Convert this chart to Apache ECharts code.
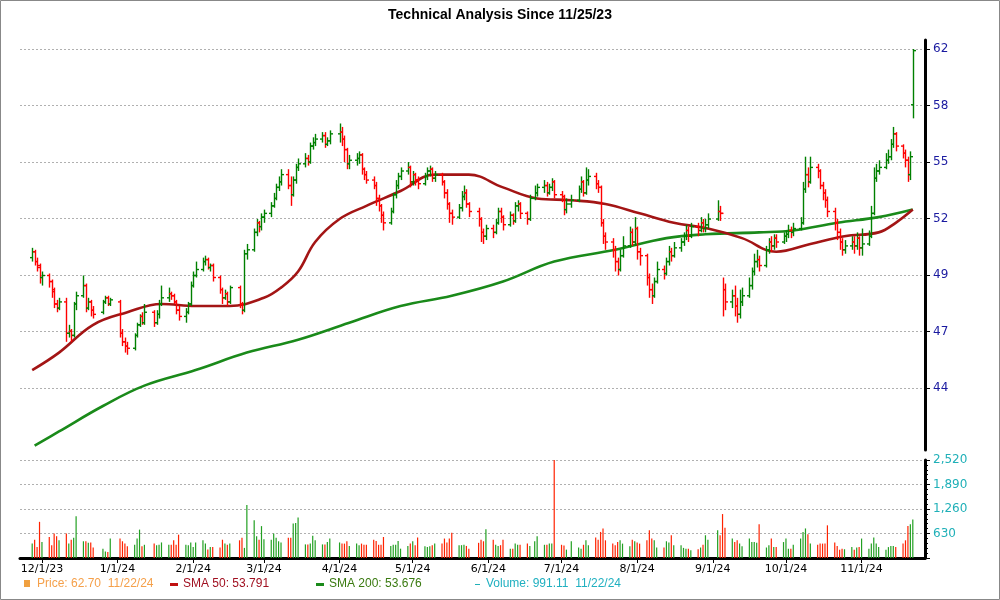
<!DOCTYPE html>
<html><head><meta charset="utf-8">
<script src="https://cdn.jsdelivr.net/npm/echarts@6/dist/echarts.min.js"></script>
<style>html,body{margin:0;padding:0;background:#fff}#c{width:1000px;height:600px}</style>
</head><body><div id="c"></div>
<script>
// ---- data ----
const firstDay = '2023-11-27', lastDay = '2024-11-22';
const holidays = ['2023-12-25','2024-01-01','2024-01-15','2024-02-19','2024-03-29','2024-05-27','2024-06-19','2024-07-04','2024-09-02'];
// daily bars: [open, close, low, high]
const ohlc = [
[50.2,50.5,50.0,50.7],[50.5,50.0,49.8,50.6],[50.0,49.8,49.5,50.2],[49.7,49.2,48.9,49.9],[49.2,49.3,48.8,49.5],
[49.3,49.0,48.7,49.4],[49.0,48.5,48.2,49.1],[48.6,47.9,47.7,48.7],[47.9,47.7,47.5,48.1],[47.7,48.0,47.6,48.2],
[48.0,46.5,46.1,48.2],[46.5,46.6,46.3,46.9],[46.6,46.4,46.1,46.7],[46.4,47.9,46.3,48.0],[47.9,48.3,47.6,48.5],
[48.3,48.8,48.2,49.3],[48.8,47.7,47.5,48.9],[47.7,48.0,47.6,48.2],[48.0,47.6,47.3,48.1],[47.6,47.4,47.2,47.8],
[47.5,48.0,47.4,48.1],[48.0,48.2,47.9,48.3],[48.2,47.9,47.8,48.3],[47.9,48.1,47.8,48.2],
[48.0,46.5,46.3,48.1],[46.5,46.1,45.9,46.7],[46.1,45.9,45.6,46.3],[45.9,45.8,45.5,46.1],
[45.8,46.4,45.7,46.5],[46.4,46.9,46.3,47.0],[46.9,47.3,46.8,47.4],[47.3,47.0,46.9,47.5],[47.0,47.5,46.9,47.9],
[47.5,47.0,46.8,47.6],[47.0,47.4,46.9,47.6],[47.4,47.9,47.2,48.1],[47.9,48.2,47.8,48.8],
[48.2,48.4,48.0,48.7],[48.4,48.3,48.1,48.5],[48.3,48.0,47.9,48.4],[48.0,47.6,47.4,48.1],[47.6,47.3,47.1,47.8],
[47.3,47.5,47.0,47.7],[47.5,47.9,47.4,48.0],[47.9,48.8,47.8,49.0],[48.8,49.3,48.7,49.5],[49.3,49.6,49.2,50.0],
[49.6,50.0,49.5,50.2],[50.0,50.1,49.8,50.3],[50.1,49.7,49.6,50.2],[49.7,49.8,49.5,49.9],[49.8,49.2,49.0,49.9],
[49.2,48.6,48.4,49.3],[48.6,48.2,47.9,48.7],[48.2,48.4,48.1,48.6],[48.4,48.0,47.8,48.5],[48.0,48.7,47.9,48.8],
[48.7,47.9,47.7,48.8],[47.9,47.6,47.4,48.0],[47.6,50.4,47.5,50.6],[50.4,50.6,50.1,50.9],
[50.6,51.5,50.5,51.7],[51.5,52.0,51.3,52.2],[52.0,51.8,51.5,52.1],[51.8,52.3,51.6,52.5],[52.3,52.5,52.0,52.7],
[52.5,52.9,52.3,53.1],[52.9,53.3,52.8,53.6],[53.3,53.9,53.2,54.1],[53.9,54.2,53.7,54.5],[54.2,54.6,54.0,54.9],
[54.6,54.0,53.8,54.9],[54.0,53.5,52.9,54.5],[53.5,54.3,53.4,54.5],[54.3,55.0,54.1,55.2],[55.0,55.2,54.8,55.5],
[55.2,55.5,55.0,55.8],[55.5,55.3,55.1,55.7],[55.3,56.2,55.2,56.4],[56.2,56.4,56.0,56.7],[56.4,56.6,56.2,56.9],
[56.6,56.8,56.4,57.0],[56.8,56.3,56.1,57.0],[56.3,56.5,56.2,56.7],[56.5,56.9,56.3,57.1],
[56.9,57.0,56.4,57.5],[57.0,56.6,56.2,57.3],[56.6,56.0,55.3,56.8],[56.0,55.2,54.9,56.1],[55.2,55.4,54.9,55.7],
[55.4,55.5,55.1,55.8],[55.5,55.7,55.2,55.9],[55.7,54.9,54.6,55.8],[54.9,54.6,54.3,55.0],[54.6,54.3,54.1,54.8],
[54.3,54.0,53.8,54.5],[54.0,53.3,52.9,54.2],[53.3,52.9,52.6,53.5],[52.9,52.4,52.0,53.0],[52.4,52.0,51.6,52.6],
[52.0,52.6,51.9,52.8],[52.6,53.5,52.5,53.6],[53.5,54.0,53.3,54.3],[54.0,54.5,53.8,54.7],[54.5,54.8,54.3,55.0],
[54.8,55.0,54.6,55.3],[55.0,54.2,53.9,55.1],[54.2,54.6,54.0,54.8],[54.6,54.3,54.0,54.7],[54.3,54.1,53.8,54.5],
[54.1,54.5,54.0,54.7],[54.5,54.8,54.3,55.0],[54.8,54.9,54.5,55.1],[54.9,54.4,54.2,55.0],[54.4,54.6,54.2,54.8],
[54.6,54.2,54.0,54.7],[54.2,53.6,53.3,54.3],[53.6,53.0,52.7,53.8],[53.0,52.5,52.0,53.1],[52.5,52.3,51.9,52.7],
[52.3,52.8,52.2,53.0],[52.8,53.4,52.6,53.7],[53.4,53.6,53.2,54.0],[53.6,53.0,52.8,53.8],[53.0,52.6,52.3,53.1],
[52.6,52.2,51.8,52.8],[52.2,51.5,51.0,52.3],[51.5,51.3,50.9,51.7],[51.3,51.7,51.1,51.9],
[51.7,51.5,51.2,51.9],[51.5,52.0,51.4,52.2],[52.0,52.6,51.9,52.8],[52.6,52.3,52.0,52.8],[52.3,51.9,51.6,52.4],
[51.9,52.4,51.8,52.6],[52.4,52.1,51.9,52.5],[52.1,52.9,52.0,53.1],[52.9,53.0,52.6,53.2],[53.0,52.5,52.2,53.1],
[52.5,52.2,51.9,52.6],[52.2,53.3,52.1,53.5],[53.3,53.6,53.2,54.0],[53.6,53.9,53.4,54.1],
[53.9,54.0,53.6,54.3],[54.0,53.6,53.4,54.2],[53.6,53.9,53.5,54.1],[53.9,54.2,53.7,54.4],[54.2,53.5,53.3,54.3],
[53.5,53.4,53.1,53.7],[53.4,52.7,52.4,53.5],[52.7,53.0,52.5,53.3],[53.0,53.2,52.8,53.5],
[53.2,53.8,53.1,54.0],[53.8,54.2,53.6,54.5],[54.2,53.6,53.4,54.3],[53.6,54.3,53.5,55.0],[54.3,54.5,54.0,54.9],
[54.5,54.1,53.8,54.7],[54.1,53.9,53.6,54.3],[53.9,52.0,51.8,54.0],[52.0,51.3,50.9,52.2],[51.3,51.0,50.6,51.5],
[51.0,50.6,50.2,51.2],[50.6,50.0,49.5,50.8],[50.0,49.6,49.3,50.2],[49.6,50.3,49.5,50.6],[50.3,50.8,50.2,51.3],
[50.8,51.5,50.7,51.8],[51.5,51.0,50.8,51.7],[51.0,51.7,50.8,52.3],[51.7,50.5,50.1,51.8],[50.5,50.3,49.8,50.7],
[50.3,49.2,48.8,50.4],[49.2,48.6,48.2,49.4],[48.6,48.3,47.9,48.9],[48.3,49.0,48.2,49.2],[49.0,49.6,48.9,50.0],
[49.6,49.4,49.1,49.8],[49.4,50.0,49.3,50.2],[50.0,50.5,49.8,50.8],[50.5,50.3,50.0,50.7],[50.3,50.7,50.2,51.0],
[50.7,51.0,50.5,51.2],[51.0,51.3,50.8,51.5],[51.3,51.6,51.1,51.9],[51.6,51.3,51.0,51.8],[51.3,51.8,51.2,52.0],
[51.8,51.6,51.3,52.0],[51.6,52.0,51.5,52.3],[52.0,51.7,51.5,52.2],[51.7,51.9,51.5,52.2],[51.9,52.2,51.7,52.5],
[52.2,52.6,52.1,53.2],[52.6,52.5,52.1,52.9],[52.5,48.6,47.3,49.2],[48.6,48.0,47.6,48.9],
[48.0,48.3,47.7,48.6],[48.3,47.8,47.3,48.8],[47.8,47.4,47.0,48.2],[47.4,48.0,47.2,48.6],[48.0,48.3,47.8,48.7],
[48.3,48.8,48.2,49.2],[48.8,49.5,48.6,49.7],[49.5,50.0,49.3,50.4],[50.0,50.1,49.7,50.6],[50.1,49.8,49.5,50.3],
[49.8,50.6,49.7,50.8],[50.6,51.0,50.4,51.2],[51.0,50.8,50.5,51.3],[50.8,51.2,50.6,51.4],[51.2,51.0,50.7,51.4],
[51.0,51.3,50.9,51.5],[51.3,51.4,51.0,51.6],[51.4,51.6,51.2,51.9],[51.6,51.5,51.2,51.8],[51.5,51.7,51.3,52.0],
[51.7,52.0,51.6,52.3],[52.0,53.8,51.9,54.2],[53.8,54.6,53.6,55.6],[54.6,54.2,53.9,55.0],[54.2,55.0,54.1,55.6],
[55.0,54.8,54.4,55.2],[54.8,54.0,53.8,54.9],[54.0,53.6,53.2,54.2],[53.6,53.2,52.8,53.8],[53.2,52.6,52.3,53.4],
[52.6,52.0,51.6,52.8],[52.0,51.5,51.1,52.2],[51.5,51.0,50.6,51.7],[51.0,50.6,50.3,51.2],[50.6,50.8,50.4,51.1],
[50.8,51.0,50.6,51.3],[51.0,50.8,50.4,51.3],[50.8,51.2,50.6,51.5],[51.2,50.7,50.3,51.3],[50.7,50.9,50.3,51.7],
[50.9,51.3,50.8,51.6],[51.3,52.5,51.2,52.9],[52.5,54.4,52.4,55.0],[54.4,54.8,54.2,55.2],[54.8,55.0,54.6,55.4],
[55.0,55.4,54.9,55.8],[55.4,55.6,55.2,56.0],[55.6,56.3,55.4,56.6],[56.3,56.9,56.1,57.3],[56.9,56.2,55.9,57.0],
[56.2,55.8,55.5,56.3],[55.8,55.4,55.0,56.0],[55.4,54.6,54.2,55.6],[54.6,55.6,54.3,55.9],[58.6,61.9,57.8,62.0]
];
const volume = [
370,470,280,930,410, 540,330,630,560,455, 630,370,470,520,1075, 430,430,390,400,270, 240,170,155,500,
500,430,370,300, 340,500,730,300,340, 370,330,340,400, 340,340,455,340,600, 340,330,400,280,400,
455,370,220,280,280, 270,470,370,340,370, 455,520,260,1360, 970,560,470,820,480, 470,630,520,430,400,
520,520,885,900,1040, 350,350,370,575,455, 350,350,410,500, 400,370,370,430,310, 370,330,370,340,340,
470,440,340,340,540, 310,340,340,440,240, 310,370,430,330,525, 300,280,300,330,370, 370,500,400,500,650,
330,330,340,310,240, 390,470,430,740, 470,340,310,330,470, 240,240,370,340,340, 370,310,430,560,
340,340,370,370,2520, 340,320,215,430, 270,240,340,455,330, 525,470,670,760,455, 370,330,410,455,370,
300,470,430,400,370, 455,715,500,455,270, 270,430,400,585,330, 330,260,240,240,200, 225,270,340,585,470,
715,585,1130,780, 500,410,455,370,300, 500,410,410,390,870, 270,330,500,280,280, 410,500,240,240,340,
500,670,760,610,370, 340,370,370,370,840, 400,310,215,240,225, 280,215,270,280,500, 240,370,525,370,280,
215,280,310,310,280, 370,455,820,870,990
];
const sma50Dates = ['2023-11-27','2023-12-08','2023-12-22','2024-01-05','2024-01-19','2024-02-02','2024-02-16','2024-03-01','2024-03-08','2024-03-15','2024-03-22','2024-04-01','2024-04-12','2024-04-26','2024-05-10','2024-05-24','2024-06-07','2024-06-21','2024-07-05','2024-07-19','2024-08-02','2024-08-16','2024-08-30','2024-09-13','2024-09-27','2024-10-11','2024-10-25','2024-11-08','2024-11-15','2024-11-22'];
const sma50 = [44.8,45.6,46.9,47.5,47.9,47.8,47.8,48.2,48.7,49.5,51.0,52.2,52.9,53.7,54.6,54.6,53.9,53.3,53.2,53.0,52.5,52.0,51.7,51.2,50.5,50.9,51.3,51.5,52.0,52.7];
const sma200Dates = ['2023-11-28','2023-12-08','2023-12-26','2024-01-12','2024-02-02','2024-02-23','2024-03-15','2024-04-05','2024-04-26','2024-05-17','2024-06-07','2024-06-28','2024-07-23','2024-08-13','2024-08-29','2024-09-20','2024-10-04','2024-10-22','2024-11-08','2024-11-22'];
const sma200 = [41.5,42.1,43.2,44.1,44.8,45.6,46.2,47.0,47.8,48.3,49.0,50.0,50.6,51.2,51.4,51.5,51.6,52.0,52.3,52.7];
const priceTicks = [44,47,49,52,55,58,62];
const volTicks = ['0','630','1,260','1,890','2,520'];
const monthTicks = ['2023-12-01','2024-01-01','2024-02-01','2024-03-01','2024-04-01','2024-05-01','2024-06-01','2024-07-01','2024-08-01','2024-09-01','2024-10-01','2024-11-01'];

// ---- build ----
const pad=n=>String(n).padStart(2,'0');
const dates=[];
{let d=new Date(firstDay+'T00:00:00Z');const end=new Date(lastDay+'T00:00:00Z');
 while(d<=end){const wd=d.getUTCDay();const s=d.getUTCFullYear()+'-'+pad(d.getUTCMonth()+1)+'-'+pad(d.getUTCDate());
  if(wd!==0&&wd!==6&&!holidays.includes(s))dates.push(s);d=new Date(d.getTime()+86400000);}}
const DAY=86400000;
const ts=s=>Date.parse(s+'T00:00:00Z')/DAY;
const STEP=Math.log(62/44)/6, BASE=Math.log(44);
const U=p=>(Math.log(p)-BASE)/STEP;
const n=Math.min(dates.length,ohlc.length);
const bars=[],vols=[];
for(let i=0;i<n;i++){const [o,c,l,h]=ohlc[i];
  bars.push([ts(dates[i]),U(o),U(c),U(l),U(h)]);
  vols.push({value:[ts(dates[i]),volume[i]],itemStyle:{color:c>=o?'#22a022':'#ff2200'}});}
const green='#008000',red='#ff0000';
const xMin=ts('2023-11-22'),xMax=ts('2024-11-27');
const mt=monthTicks.map(ts);
const chart=echarts.init(document.getElementById('c'),null,{renderer:'canvas'});
const font='DejaVu Sans', lf='Liberation Sans';
chart.setOption({
 animation:false,
 title:{text:'Technical Analysis Since 11/25/23',left:'center',top:3,textStyle:{fontFamily:lf,fontSize:14,fontWeight:'bold',color:'#000'}},
 grid:[{left:20,right:75,top:40,height:410},{left:20,right:75,top:460,height:98}],
 xAxis:[
  {type:'value',gridIndex:0,min:xMin,max:xMax,show:false,splitLine:{show:false}},
  {type:'value',gridIndex:1,min:xMin,max:xMax,
   axisLine:{lineStyle:{color:'#000',width:3}},
   axisTick:{customValues:mt,length:5,lineStyle:{color:'#000'}},
   axisLabel:{customValues:mt,color:'#000',fontFamily:font,fontSize:11,margin:6,
     formatter:v=>{const d=new Date(v*DAY);return (d.getUTCMonth()+1)+'/'+d.getUTCDate()+'/'+String(d.getUTCFullYear()).slice(2);}},
   splitLine:{show:false}}
 ],
 yAxis:[
  {type:'value',gridIndex:0,position:'right',min:-1.1,max:6.16,
   axisLine:{show:true,lineStyle:{color:'#000',width:3}},
   axisTick:{show:true,customValues:[0,1,2,3,4,5,6],length:5,lineStyle:{color:'#000'}},
   axisLabel:{customValues:[0,1,2,3,4,5,6],color:'#1a1aa0',fontFamily:font,fontSize:12,margin:8,
     formatter:v=>String(priceTicks[Math.round(v)])},
   splitLine:{show:true,lineStyle:{color:'#b0b0b0',type:[2,2],width:1}}},
  {type:'value',gridIndex:1,position:'right',min:0,max:2520,interval:630,
   axisLine:{show:true,lineStyle:{color:'#000',width:3}},
   axisTick:{show:true,length:5,lineStyle:{color:'#000'}},
   minorTick:{show:true,splitNumber:5,length:3,lineStyle:{color:'#000'}},
   axisLabel:{color:'#20b0b8',fontFamily:font,fontSize:12,margin:8,formatter:(v,i)=>v===0?'':volTicks[Math.round(v/630)]},
   splitLine:{show:true,lineStyle:{color:'#b0b0b0',type:[2,2],width:1}}}
 ],
 series:[
  {type:'line',xAxisIndex:0,yAxisIndex:0,showSymbol:false,smooth:0.4,z:3,
   data:sma200Dates.map((d,i)=>[ts(d),U(sma200[i])]),lineStyle:{color:'#1a8a1a',width:2.6}},
  {type:'line',xAxisIndex:0,yAxisIndex:0,showSymbol:false,smooth:0.4,z:3,
   data:sma50Dates.map((d,i)=>[ts(d),U(sma50[i])]),lineStyle:{color:'#a31515',width:2.6}},
  {type:'custom',xAxisIndex:0,yAxisIndex:0,z:4,data:bars,encode:{x:0,y:[1,2,3,4]},
   renderItem:(params,api)=>{
     const t=api.value(0),o=api.value(1),c=api.value(2),l=api.value(3),h=api.value(4);
     const pl=api.coord([t,l]),ph=api.coord([t,h]),po=api.coord([t,o]),pc=api.coord([t,c]);
     const col=c>=o?green:red,st={stroke:col,lineWidth:1.4};
     const x=Math.round(pl[0])+0.5;
     return {type:'group',children:[
       {type:'line',shape:{x1:x,y1:ph[1],x2:x,y2:pl[1]},style:st},
       {type:'line',shape:{x1:x-2.5,y1:po[1],x2:x,y2:po[1]},style:st},
       {type:'line',shape:{x1:x,y1:pc[1],x2:x+2.5,y2:pc[1]},style:st}]};
   }},
  {type:'bar',xAxisIndex:1,yAxisIndex:1,barWidth:1.2,data:vols}
 ],
 graphic:[
  {type:'rect',shape:{x:0.5,y:0.5,width:999,height:599},style:{fill:null,stroke:'#888',lineWidth:1},silent:true},
  {type:'rect',shape:{x:24,y:580,width:6,height:7},style:{fill:'#f0a040'}},
  {type:'text',x:37,y:578,style:{text:'Price: 62.70  11/22/24',fill:'#f5a04a',font:'12px '+lf}},
  {type:'rect',shape:{x:170,y:583,width:8,height:3},style:{fill:'#c01010'}},
  {type:'text',x:183,y:578,style:{text:'SMA 50: 53.791',fill:'#a01020',font:'12px '+lf}},
  {type:'rect',shape:{x:316,y:583,width:8,height:3},style:{fill:'#1a8a1a'}},
  {type:'text',x:329,y:578,style:{text:'SMA 200: 53.676',fill:'#3a7a10',font:'12px '+lf}},
  {type:'rect',shape:{x:475,y:584,width:5,height:1},style:{fill:'#20b0b8'}},
  {type:'text',x:486,y:578,style:{text:'Volume: 991.11  11/22/24',fill:'#20b0c0',font:'12px '+lf}}
 ]
});
</script></body></html>
